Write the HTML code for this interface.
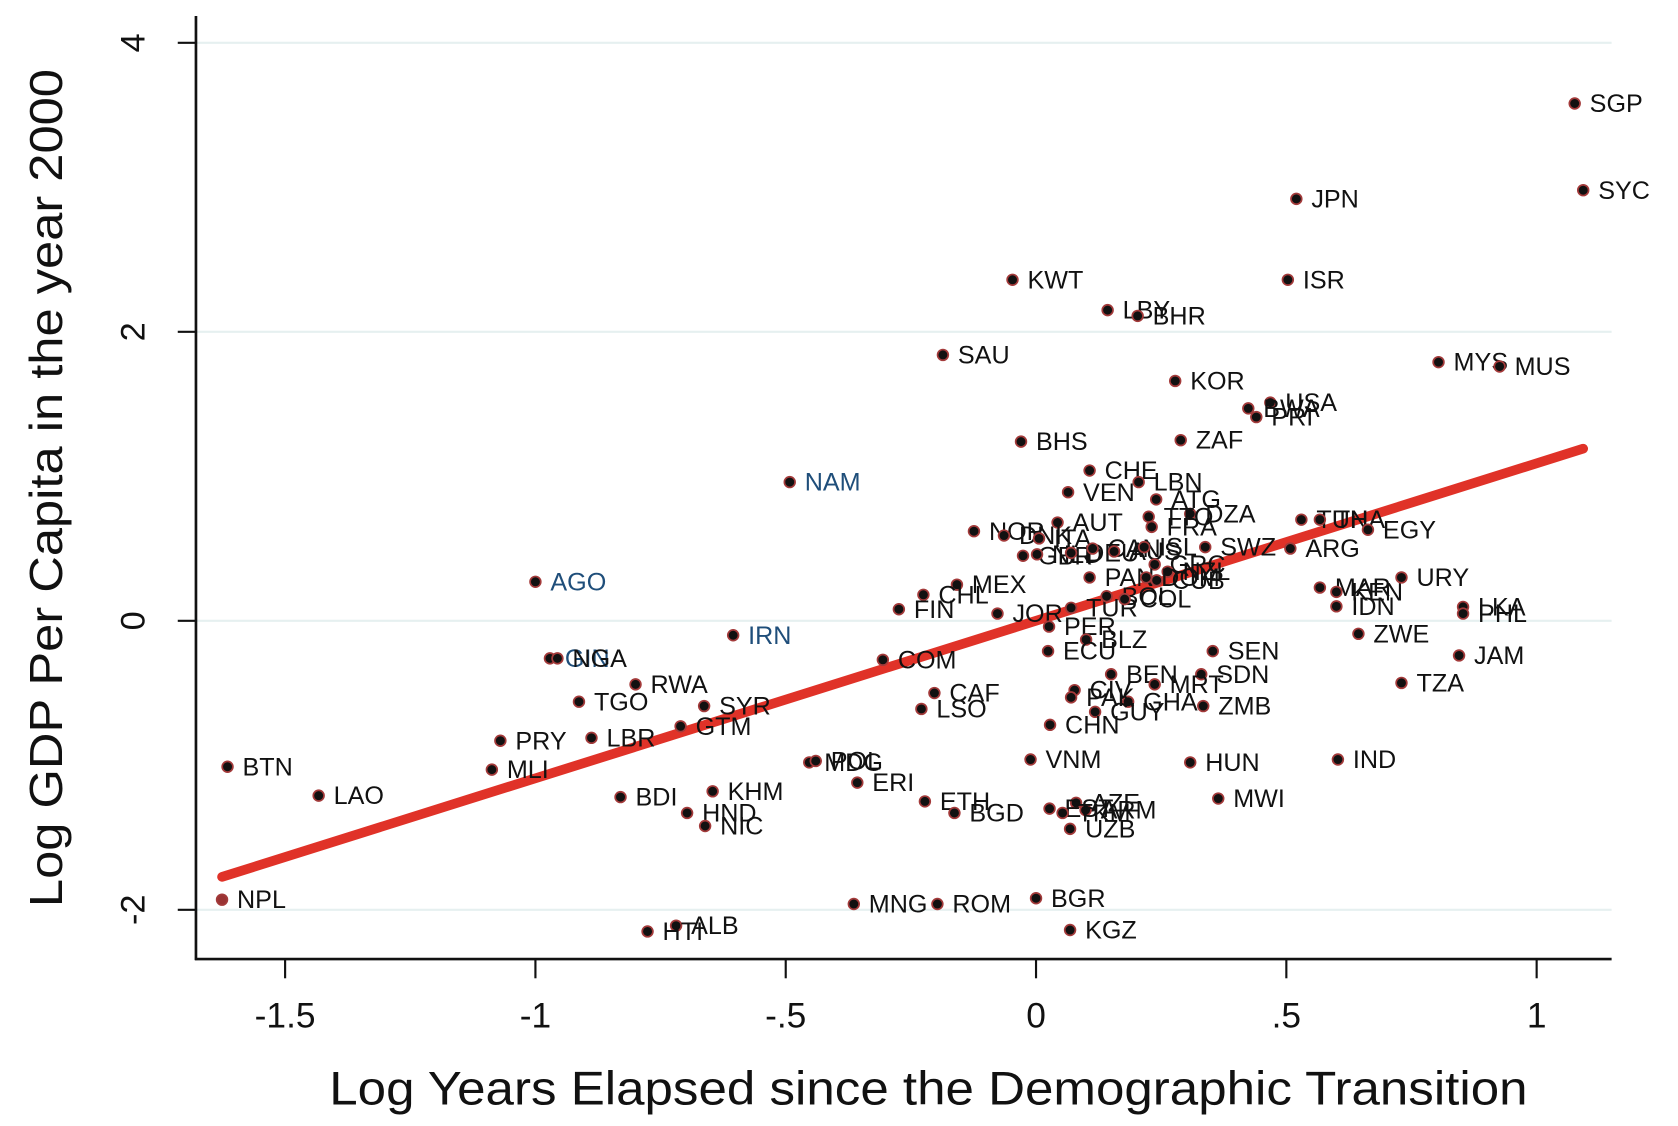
<!DOCTYPE html>
<html><head><meta charset="utf-8"><style>
html,body{margin:0;padding:0;background:#fff;width:1678px;height:1126px;overflow:hidden}
svg{display:block}
text{font-family:"Liberation Sans",sans-serif}
</style></head><body>
<svg id="chart" width="1678" height="1126" viewBox="0 0 1567 1052" preserveAspectRatio="none" xmlns="http://www.w3.org/2000/svg">
<g id="grid"></g>
<g id="axes"></g>
<g id="fit"></g>
<g id="pts"></g>
<text transform="translate(58,456) rotate(-90)" text-anchor="middle" font-size="43" textLength="783" lengthAdjust="spacingAndGlyphs" fill="#111">Log GDP Per Capita in the year 2000</text>
<text x="867" y="1032" text-anchor="middle" font-size="44" textLength="1119" lengthAdjust="spacingAndGlyphs" fill="#111">Log Years Elapsed since the Demographic Transition</text>
</svg>
<script>
const codes=["SGP","SYC","JPN","ISR","KWT","LBY","BHR","SAU","MYS","MUS","KOR","USA","BWA","PRI","ZAF","BHS","CHE","LBN","NAM","VEN","ATG","DZA","TTO","AUT","FRA","TUN","THA","EGY","NOR","DNK","ITA","GBR","NLD","DEU","CAN","AUS","ISL","SWZ","ARG","GRC","NZL","PAN","DOM","CUB","AGO","MAR","KEN","IDN","URY","LKA","PHL","MEX","CHL","FIN","JOR","TUR","BOL","COL","PER","BLZ","ECU","SEN","ZWE","JAM","IRN","GIN","NGA","COM","TZA","SDN","BEN","MRT","RWA","CAF","TGO","SYR","ZMB","LSO","CIV","GHA","PAK","GUY","CHN","GTM","PRY","LBR","BTN","MLI","VNM","HUN","IND","MDG","POL","ERI","LAO","BDI","KHM","ETH","MWI","HND","NIC","BGD","AZE","ARM","EST","TKM","UZB","NPL","MNG","ROM","BGR","ALB","HTI","KGZ"];
const xs=[1.076,1.093,0.52,0.503,-0.047,0.143,0.203,-0.186,0.804,0.926,0.278,0.468,0.424,0.44,0.289,-0.03,0.107,0.205,-0.492,0.064,0.24,0.308,0.225,0.043,0.231,0.53,0.567,0.663,-0.124,-0.064,0.006,-0.026,0.002,0.07,0.113,0.156,0.216,0.338,0.508,0.237,0.263,0.107,0.220,0.241,-1.0,0.567,0.60,0.60,0.73,0.853,0.853,-0.158,-0.225,-0.274,-0.077,0.07,0.141,0.177,0.026,0.10,0.024,0.353,0.644,0.845,-0.605,-0.971,-0.956,-0.306,0.73,0.33,0.15,0.237,-0.80,-0.203,-0.913,-0.663,0.334,-0.229,0.077,0.184,0.070,0.118,0.028,-0.71,-1.07,-0.888,-1.615,-1.087,-0.011,0.308,0.603,-0.453,-0.440,-0.357,-1.433,-0.83,-0.646,-0.222,0.364,-0.697,-0.661,-0.163,0.080,0.099,0.027,0.053,0.068,-1.626,-0.364,-0.197,0.0,-0.719,-0.776,0.068];
const ys=[3.58,2.98,2.92,2.36,2.36,2.15,2.11,1.84,1.79,1.76,1.66,1.51,1.47,1.41,1.25,1.24,1.04,0.96,0.96,0.89,0.84,0.74,0.72,0.68,0.65,0.70,0.70,0.63,0.62,0.59,0.57,0.45,0.46,0.47,0.50,0.48,0.51,0.51,0.50,0.39,0.34,0.30,0.30,0.28,0.27,0.23,0.20,0.10,0.30,0.096,0.05,0.25,0.18,0.08,0.05,0.09,0.17,0.15,-0.04,-0.13,-0.21,-0.21,-0.09,-0.24,-0.10,-0.26,-0.26,-0.27,-0.43,-0.37,-0.37,-0.44,-0.44,-0.50,-0.56,-0.59,-0.59,-0.61,-0.48,-0.56,-0.53,-0.63,-0.72,-0.73,-0.83,-0.81,-1.01,-1.03,-0.96,-0.98,-0.96,-0.98,-0.97,-1.12,-1.21,-1.22,-1.18,-1.25,-1.23,-1.33,-1.42,-1.33,-1.26,-1.31,-1.30,-1.33,-1.44,-1.93,-1.96,-1.96,-1.92,-2.11,-2.15,-2.14];
const blueCodes=["NAM","AGO","IRN","GIN"];
const xTicks=[-1.5,-1,-0.5,0,0.5,1];
const xTickLabels=["-1.5","-1","-.5","0",".5","1"];
const yTicks=[-2,0,2,4];
const yTickLabels=["-2","0","2","4"];
const fitSlope=1.09, fitIntercept=0.0;

const NS="http://www.w3.org/2000/svg";
const X=v=>967.5+v*467.5, Y=v=>580-v*135;
function mk(tag,attrs,parent){const e=document.createElementNS(NS,tag);for(const k in attrs)e.setAttribute(k,attrs[k]);parent.appendChild(e);return e;}
const grid=document.getElementById('grid'),axes=document.getElementById('axes'),fit=document.getElementById('fit'),pts=document.getElementById('pts');
yTicks.forEach((t,i)=>{
  const g=mk('line',{x1:184,x2:1505,y1:Y(t),y2:Y(t),stroke:'#e6f0f0','stroke-width':2},grid);
  
  
  const tk=mk('line',{x1:166,x2:184,y1:Y(t),y2:Y(t),stroke:'#111','stroke-width':2},axes);
  
  
  const tl=mk('text',{transform:`translate(135,${Y(t)}) rotate(-90)`,'text-anchor':'middle','font-size':32,fill:'#111'},axes);
  tl.textContent=yTickLabels[i];
  
  
});
xTicks.forEach((t,i)=>{
  const tk=mk('line',{x1:X(t),x2:X(t),y1:896,y2:914,stroke:'#111','stroke-width':2},axes);
  
  
  const tl=mk('text',{x:X(t),y:960,'text-anchor':'middle','font-size':33,fill:'#111'},axes);
  tl.textContent=xTickLabels[i];
  
  
});
const ya=mk('line',{x1:183,x2:183,y1:15,y2:897,stroke:'#111','stroke-width':2.5},axes);


const xa=mk('line',{x1:182,x2:1505,y1:896,y2:896,stroke:'#111','stroke-width':2.5},axes);


const xmin=Math.min(...xs),xmax=Math.max(...xs);
const fl=mk('line',{x1:X(xmin),y1:Y(fitIntercept+fitSlope*xmin),x2:X(xmax),y2:Y(fitIntercept+fitSlope*xmax),stroke:'#e03228','stroke-width':9,'stroke-linecap':'round'},fit);


codes.forEach((c,i)=>{
  const isN=c==="NPL";
  const p=mk('circle',{cx:X(xs[i]),cy:Y(ys[i]),r:5,fill:isN?'#993333':'#111','stroke':'#a33a3a','stroke-width':1.6},pts);
  
  
  const t=mk('text',{x:X(xs[i])+14,y:Y(ys[i])+8,'font-size':23.5,fill:blueCodes.includes(c)?'#1f4e7a':'#111'},pts);
  t.textContent=c;
  
  
});
</script>
</body></html>
